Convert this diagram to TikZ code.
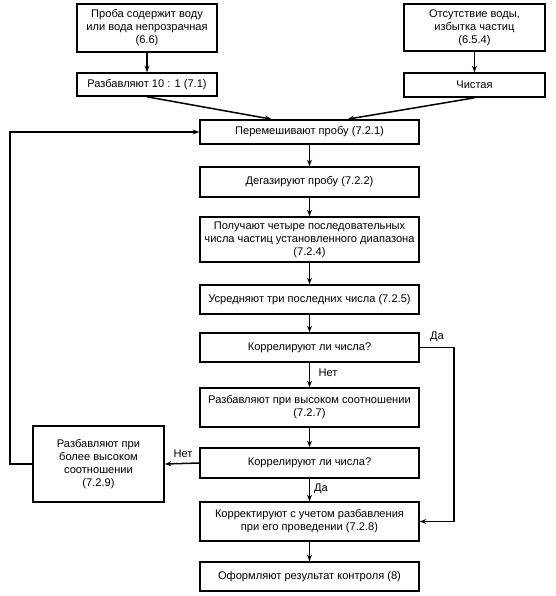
\documentclass[tikz,border=0pt]{standalone}
\usepackage{fontspec}
\setmainfont{Liberation Sans}
\usetikzlibrary{arrows.meta}
\begin{document}
\begin{tikzpicture}[x=1pt,y=-1pt,
  box/.style={draw,line width=1.6pt,align=center,inner sep=0pt,font=\fontsize{11.1}{13}\selectfont},
  arr/.style={line width=1.5pt,-{Stealth[length=6.5pt,width=5pt]}},
  lbl/.style={font=\fontsize{11.1}{13}\selectfont,inner sep=0pt}]
\useasboundingbox (0,0) rectangle (555,596);
% top boxes
\node[box,minimum width=140pt,minimum height=48pt] (tl) at (147,28) {Проба содержит воду\\или вода непрозрачная\\(6.6)};
\node[box,minimum width=141pt,minimum height=47pt] (tr) at (474.5,27.5) {Отсутствие воды,\\избытка частиц\\(6.5.4)};
\node[box,minimum width=140pt,minimum height=23pt] (dil10) at (147,84.5) {Разбавляют 10 : 1 (7.1)};
\node[box,minimum width=141pt,minimum height=24pt] (clean) at (474.5,85) {Чистая};
% main column
\node[box,minimum width=219pt,minimum height=24pt] (mix) at (309.5,132) {Перемешивают пробу (7.2.1)};
\node[box,minimum width=219pt,minimum height=30pt] (degas) at (309.5,182) {Дегазируют пробу (7.2.2)};
\node[box,minimum width=219pt,minimum height=45pt] (get) at (309.5,239.5) {Получают четыре последовательных\\числа частиц установленного диапазона\\(7.2.4)};
\node[box,minimum width=219pt,minimum height=29pt] (avg) at (309.5,299.5) {Усредняют три последних числа (7.2.5)};
\node[box,minimum width=219pt,minimum height=29pt] (corr1) at (309.5,347.5) {Коррелируют ли числа?};
\node[box,minimum width=219pt,minimum height=39pt] (dil) at (309.5,407.5) {Разбавляют при высоком соотношении\\(7.2.7)};
\node[box,minimum width=219pt,minimum height=30pt] (corr2) at (309.5,463) {Коррелируют ли числа?};
\node[box,minimum width=219pt,minimum height=39pt] (correct) at (309.5,521.5) {Корректируют с учетом разбавления\\при его проведении (7.2.8)};
\node[box,minimum width=219pt,minimum height=29pt] (report) at (309.5,576.5) {Оформляют результат контроля (8)};
% left box
\node[box,minimum width=131pt,minimum height=76pt] (left) at (98.5,464) {Разбавляют при\\более высоком\\соотношении\\(7.2.9)};
% connectors
\draw[arr] (tl) -- (dil10);
\draw[arr] (tr) -- (clean);
\draw[arr] (dil10.south) -- ([xshift=-38pt]mix.north);
\draw[arr] (clean.south) -- ([xshift=38pt]mix.north);
\draw[arr] (mix) -- (degas);
\draw[arr] (degas) -- (get);
\draw[arr] (get) -- (avg);
\draw[arr] (avg) -- (corr1);
\draw[arr] (corr1) -- (dil);
\draw[arr] (dil) -- (corr2);
\draw[arr] (corr2) -- (correct);
\draw[arr] (correct) -- (report);
\coordinate (yesx) at (454,347.5);
\coordinate (loopx) at (10,464);
\draw[arr] (corr1.east) -- (yesx) |- (correct.east);
\draw[arr] (corr2.west) -- (left.east);
\draw[arr] (left.west) -- (loopx) |- (mix.west);
% labels
\node[lbl] (l1) at (437,337) {Да};
\node[lbl] (l2) at (328,373) {Нет};
\node[lbl] (l3) at (183,454) {Нет};
\node[lbl] (l4) at (321,489) {Да};
\end{tikzpicture}
\end{document}
